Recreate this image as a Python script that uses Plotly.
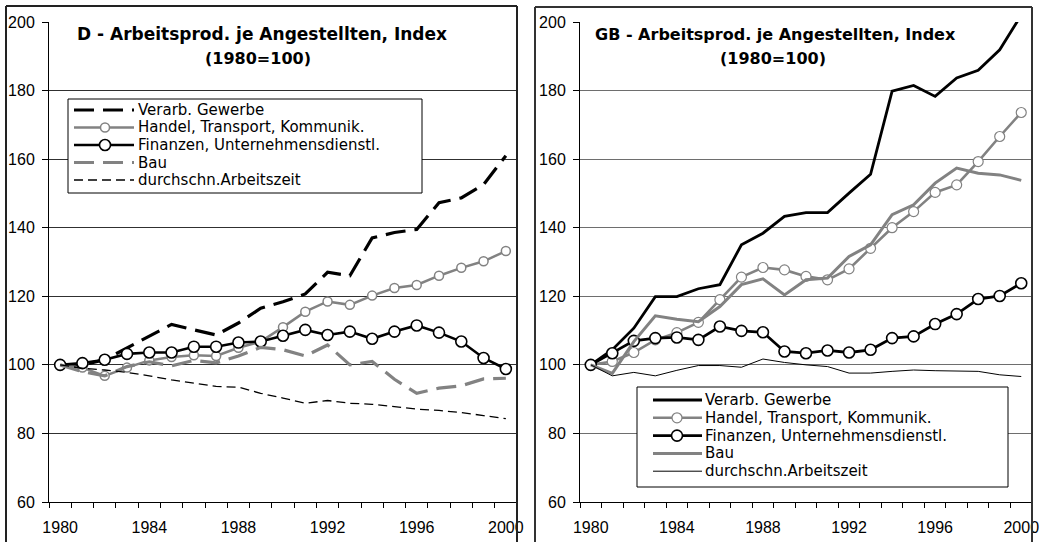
import plotly.graph_objects as go

# ---------------- data ----------------
years = list(range(1980, 2001))
series_names = [
    "Verarb. Gewerbe",
    "Handel, Transport, Kommunik.",
    "Finanzen, Unternehmensdienstl.",
    "Bau",
    "durchschn.Arbeitszeit",
]
x_ticks = [1980, 1984, 1988, 1992, 1996, 2000]
y_ticks = [60, 80, 100, 120, 140, 160, 180, 200]

# Germany
d_verarb = [100, 100, 101.5, 105, 108.5, 111.8, 110.2, 108.7, 112.2, 116.5, 118.4,
            120.7, 127, 126, 137, 138.6, 139.5, 147.3, 148.7, 152.6, 161]
d_handel = [100, 99.2, 96.8, 99.2, 101.3, 102.3, 102.8, 102.6, 105, 106.8, 111,
            115.5, 118.5, 117.5, 120.2, 122.4, 123.3, 126, 128.3, 130.2, 133.2]
d_finanz = [100, 100.5, 101.5, 103.2, 103.6, 103.6, 105.3, 105.3, 106.5, 106.8, 108.5,
            110.2, 108.7, 109.7, 107.6, 109.7, 111.5, 109.4, 106.8, 102, 98.8]
d_bau = [100, 98, 96.8, 99.5, 100.9, 99.7, 101.3, 100.6, 102.6, 105.1, 104.4,
         102.6, 105.8, 100, 101, 95.8, 91.7, 93.2, 93.9, 95.9, 96.1]
d_zeit = [100, 99, 98.5, 97.8, 96.8, 95.6, 94.7, 93.7, 93.5, 91.7, 90.3,
          88.8, 89.6, 88.8, 88.5, 87.8, 87.1, 86.7, 86.1, 85.2, 84.3]

# Great Britain
g_verarb = [100, 104.4, 110.7, 119.9, 119.9, 122.2, 123.4, 135, 138.4, 143.3, 144.4,
            144.4, 150.1, 155.6, 179.8, 181.5, 178.3, 183.7, 185.9, 191.9, 202]
g_handel = [100, 101, 103.6, 107.3, 109.4, 112.4, 119, 125.6, 128.4, 127.7, 125.8,
            124.8, 128, 134, 140, 144.7, 150.3, 152.5, 159.3, 166.6, 173.6]
g_finanz = [100, 103.4, 107, 107.8, 108, 107.3, 111.2, 109.9, 109.5, 103.9, 103.4,
            104.2, 103.6, 104.4, 107.8, 108.3, 111.9, 114.8, 119.2, 120.1, 123.8]
g_bau = [100, 97.5, 106.8, 114.3, 113.3, 112.6, 117, 123.4, 125.1, 120.4, 124.8,
         125.3, 131.6, 135, 143.8, 146.7, 153, 157.4, 155.9, 155.4, 153.8]
g_zeit = [100, 96.8, 97.8, 96.8, 98.4, 99.8, 99.8, 99.3, 101.7, 100.7, 100,
          99.5, 97.6, 97.6, 98.1, 98.5, 98.3, 98.1, 98.1, 97.1, 96.6]

d_title = "D - Arbeitsprod. je Angestellten, Index"
g_title = "GB - Arbeitsprod. je Angestellten, Index"
sub_title = "(1980=100)"

# ---------------- styling ----------------
W, H = 1043, 542
GRAY = "#828282"
TICKFONT = dict(family="Liberation Sans, Arial, sans-serif", size=16, color="black")
LEGFONT = dict(family="DejaVu Sans, sans-serif", size=15, color="black")


def titlefont(size):
    return dict(family="DejaVu Sans, sans-serif", size=size, color="black", weight="bold")


def pxx(x):
    return x / W


def pxy(y):
    return 1 - y / H


d_styles = [
    dict(color="black", width=3.2, dash="20px,9px", msize=0, mline=0),
    dict(color=GRAY, width=2.5, dash="solid", msize=9, mline=1.5),
    dict(color="black", width=2.6, dash="solid", msize=11, mline=1.6),
    dict(color=GRAY, width=3.2, dash="20px,9px", msize=0, mline=0),
    dict(color="black", width=1.3, dash="9px,5px", msize=0, mline=0),
]
g_styles = [
    dict(color="black", width=2.8, dash="solid", msize=0, mline=0),
    dict(color=GRAY, width=2.6, dash="solid", msize=10, mline=1.2),
    dict(color="black", width=2.8, dash="solid", msize=11, mline=1.6),
    dict(color=GRAY, width=3.0, dash="solid", msize=0, mline=0),
    dict(color="black", width=1.0, dash="solid", msize=0, mline=0),
]

fig = go.Figure()


def add_series(values_list, styles, xa, ya):
    for name, vals, st in zip(series_names, values_list, styles):
        kw = dict(x=years, y=vals, name=name, xaxis=xa, yaxis=ya, showlegend=False,
                  line=dict(color=st["color"], width=st["width"], dash=st["dash"]),
                  hoverinfo="x+y+name")
        if st["msize"]:
            kw["mode"] = "lines+markers"
            kw["marker"] = dict(symbol="circle", size=st["msize"], color="white",
                                line=dict(color=st["color"], width=st["mline"]))
        else:
            kw["mode"] = "lines"
        fig.add_trace(go.Scatter(**kw))


add_series([d_verarb, d_handel, d_finanz, d_bau, d_zeit], d_styles, "x", "y")
add_series([g_verarb, g_handel, g_finanz, g_bau, g_zeit], g_styles, "x2", "y2")

minor_vals = [y - 0.5 for y in years] + [years[-1] + 0.5]


def xaxis_cfg(domain, anchor):
    return dict(domain=domain, anchor=anchor, range=[years[0] - 0.5, years[-1] + 0.5],
                automargin=False,
                tickmode="array", tickvals=x_ticks, ticktext=[str(t) for t in x_ticks],
                ticks="", showgrid=False, zeroline=False, showline=True,
                linecolor="black", linewidth=1, tickfont=TICKFONT,
                ticklabelstandoff=11,
                minor=dict(tickmode="array", tickvals=minor_vals, ticks="outside",
                           ticklen=5, tickcolor="black", tickwidth=1, showgrid=False))


def yaxis_cfg(domain, anchor, gridcolor):
    return dict(domain=domain, anchor=anchor, range=[60, 200], tickmode="array",
                automargin=False,
                tickvals=y_ticks, ticks="outside", ticklen=6, tickcolor="black",
                showgrid=True, gridcolor=gridcolor, gridwidth=1, zeroline=False,
                showline=True, linecolor="black", linewidth=1, tickfont=TICKFONT,
                ticklabelstandoff=4)


ydom = [pxy(502), pxy(22)]
fig.update_layout(
    template="none",
    width=W, height=H, margin=dict(l=0, r=0, t=0, b=0, pad=0, autoexpand=False),
    paper_bgcolor="white", plot_bgcolor="white", showlegend=False,
    xaxis=xaxis_cfg([pxx(49), pxx(517)], "y"),
    yaxis=yaxis_cfg(ydom, "x", "#303030"),
    xaxis2=xaxis_cfg([pxx(580), pxx(1032)], "y2"),
    yaxis2=yaxis_cfg(ydom, "x2", "#6e6e6e"),
)

shapes = []
annotations = []

# outer chart borders
for (x0, x1, y0, col) in [(6, 517, 6, "#222222"), (535, 1032, 7, "#333333")]:
    for (ax0, ay0, ax1, ay1) in [(x0, y0, x1, y0), (x0, y0, x0, 560), (x1, y0, x1, 560)]:
        shapes.append(dict(type="line", xref="paper", yref="paper",
                           x0=pxx(ax0), y0=pxy(ay0), x1=pxx(ax1), y1=pxy(ay1),
                           line=dict(color=col, width=2), layer="above"))


def add_legend(box, rows, line_x, text_x, styles, circle_x):
    bx0, by0, bx1, by1 = box
    shapes.append(dict(type="rect", xref="paper", yref="paper",
                       x0=pxx(bx0), y0=pxy(by0), x1=pxx(bx1), y1=pxy(by1),
                       fillcolor="white", line=dict(color="black", width=1), layer="above"))
    for name, ry, st in zip(series_names, rows, styles):
        shapes.append(dict(type="line", xref="paper", yref="paper",
                           x0=pxx(line_x[0]), x1=pxx(line_x[1]), y0=pxy(ry), y1=pxy(ry),
                           line=dict(color=st["color"], width=st["width"], dash=st["dash"]),
                           layer="above"))
        if st["msize"]:
            r = st["msize"] / 2
            shapes.append(dict(type="circle", xref="paper", yref="paper",
                               xsizemode="pixel", ysizemode="pixel",
                               xanchor=pxx(circle_x), yanchor=pxy(ry),
                               x0=-r, x1=r, y0=-r, y1=r, fillcolor="white",
                               line=dict(color=st["color"], width=st["mline"]),
                               layer="above"))
        annotations.append(dict(text=name, xref="paper", yref="paper", x=pxx(text_x),
                                y=pxy(ry), xanchor="left", yanchor="middle",
                                showarrow=False, font=LEGFONT, borderpad=0))


add_legend((68, 99, 422, 193), [110, 127.5, 145, 162.5, 180], (74, 134), 137, d_styles, 105)
add_legend((637, 387, 1008, 487), [400, 417.8, 435.6, 453.4, 471.2], (653, 702), 704, g_styles, 677)

# titles
for (cx, title, size) in [(262, d_title, 17), (775, g_title, 16)]:
    annotations.append(dict(text=title, xref="paper", yref="paper", x=pxx(cx), y=pxy(34),
                            xanchor="center", yanchor="middle", showarrow=False,
                            font=titlefont(size)))
for cx in (258, 773):
    annotations.append(dict(text=sub_title, xref="paper", yref="paper", x=pxx(cx), y=pxy(58),
                            xanchor="center", yanchor="middle", showarrow=False,
                            font=titlefont(16)))

fig.update_layout(shapes=shapes, annotations=annotations)
fig.write_html("out.html",
               config={"displayModeBar": False},
               post_script="document.body.style.margin='0px';document.body.style.overflow='hidden';")
